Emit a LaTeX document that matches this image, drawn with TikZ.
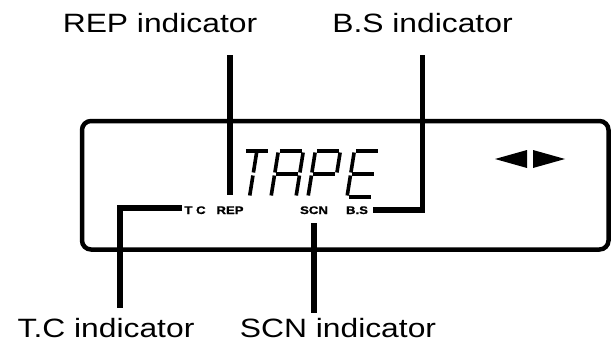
\documentclass[tikz,border=0pt]{standalone}
\usepackage{fontspec}
\newfontfamily\labelfont[FakeStretch=1.2]{Liberation Sans}
\newfontfamily\tagfont[FakeStretch=1.2, FakeBold=1]{Liberation Sans Bold}

\tikzset{
  lead/.style={line width=5.5pt},
  seg/.style={line width=3.6pt},
  lbl/.style={font=\labelfont\fontsize{26.5}{30}\selectfont, inner sep=2pt, anchor=base},
  tag/.style={font=\tagfont\fontsize{11}{12}\selectfont, inner sep=1pt, anchor=base},
  panel/.style={draw, line width=4.5pt, rounded corners=9pt, minimum width=526.5pt, minimum height=128.5pt}
}

\begin{document}
\begin{tikzpicture}[x=1pt, y=-1pt]
    \useasboundingbox (0,0) rectangle (611,345);

    % display window
    \node[panel] (lcd) at (345.25,185.25) {};

    % TAPE in slanted segments
    \begin{scope}[shift={(237,197)}, xslant=0.16]
        \draw[seg] (1.5,-46) -- (23.5,-46);
        \draw[seg] (12.5,-44.5) -- (12.5,-24.5);
        \draw[seg] (12.5,-21.5) -- (12.5,-1.5);
    \end{scope}
    \begin{scope}[shift={(271,197)}, xslant=0.16]
        \draw[seg] (1.5,-46) -- (23.5,-46);
        \draw[seg] (0,-44.5) -- (0,-24.5);
        \draw[seg] (25,-44.5) -- (25,-24.5);
        \draw[seg] (1.5,-23) -- (23.5,-23);
        \draw[seg] (0,-21.5) -- (0,-1.5);
        \draw[seg] (25,-21.5) -- (25,-1.5);
    \end{scope}
    \begin{scope}[shift={(308,197)}, xslant=0.16]
        \draw[seg] (1.5,-46) -- (23.5,-46);
        \draw[seg] (0,-44.5) -- (0,-24.5);
        \draw[seg] (25,-44.5) -- (25,-24.5);
        \draw[seg] (1.5,-23) -- (23.5,-23);
        \draw[seg] (0,-21.5) -- (0,-1.5);
    \end{scope}
    \begin{scope}[shift={(347,197)}, xslant=0.16]
        \draw[seg] (1.5,-46) -- (23.5,-46);
        \draw[seg] (0,-44.5) -- (0,-24.5);
        \draw[seg] (1.5,-23) -- (23.5,-23);
        \draw[seg] (0,-21.5) -- (0,-1.5);
        \draw[seg] (1.5,0) -- (23.5,0);
    \end{scope}

    % direction marks
    \fill (527,150) -- (527,168) -- (495,159) -- cycle;
    \fill (533,150) -- (533,168) -- (565,159) -- cycle;

    % small indicators in the window
    \node[tag] (tcT) at (195,214) {T C};
    \node[tag] (repT) at (230,214) {REP};
    \node[tag] (scnT) at (314,214) {SCN};
    \node[tag] (bsT) at (357,214) {B.S};

    % callouts
    \node[lbl] (rep) at (160,33) {REP indicator};
    \node[lbl] (bs) at (422.5,33) {B.S indicator};
    \node[lbl] (tc) at (106,337) {T.C indicator};
    \node[lbl] (scn) at (338,337) {SCN indicator};

    \coordinate (tcK) at (120,208);
    \draw[lead, shorten <=20pt, shorten >=10pt] (rep.south -| repT.north) -- (repT.north);
    \draw[lead, shorten <=20pt, shorten >=4pt] (bs.south) -- (bs.south |- bsT.east) -- (bsT.east);
    \draw[lead, shorten <=1pt, shorten >=8pt] (tcT.west |- tcK) -- (tcK) -- (tcK |- tc.north);
    \draw[lead, shorten <=8pt, shorten >=3pt] (scnT.south) -- (scnT.south |- scn.north);
\end{tikzpicture}
\end{document}
